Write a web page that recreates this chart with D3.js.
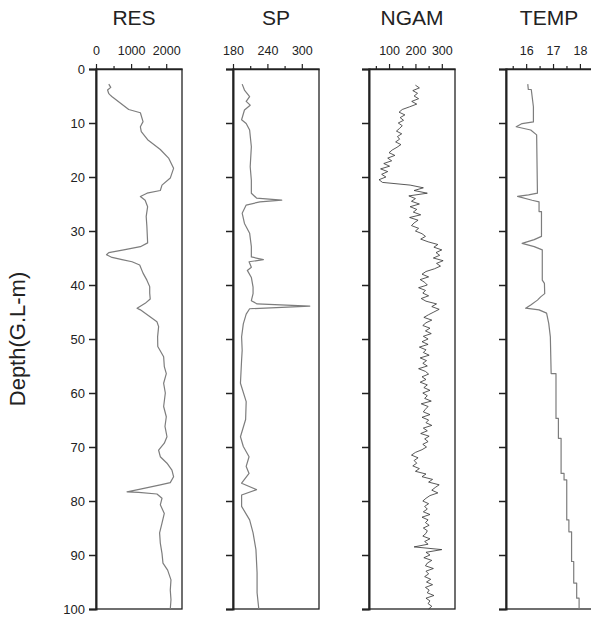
<!DOCTYPE html>
<html>
<head>
<meta charset="utf-8">
<script src="https://cdn.jsdelivr.net/npm/d3@7"></script>
<style>
  body { margin: 0; background: #fff; }
  svg text { font-family: "Liberation Sans", Arial, sans-serif; fill: #222; }
</style>
</head>
<body>
<div id="chart"></div>
<script>
// Log data (depth in m below ground level)
const resDepth = [2.8, 3.4, 3.9, 4.5, 4.8, 5.1, 7.5, 8.1, 9.75, 10.7, 11.6, 13.1, 14.9, 16.5, 18.4, 20.2, 21.5, 22.5, 23.0, 23.6, 24.3, 25.5, 27.3, 29.2, 32.2, 32.9, 33.5, 34.0, 34.4, 34.9, 35.3, 35.7, 36.3, 37.8, 39.1, 40.3, 41.5, 42.6, 43.4, 44.3, 44.6, 45.7, 46.8, 47.7, 49.6, 51.4, 53.3, 55.1, 56.4, 58.2, 60.0, 62.5, 64.4, 66.2, 68.1, 69.3, 70.6, 71.8, 73.0, 74.3, 75.5, 76.6, 77.0, 77.8, 78.3, 78.4, 78.7, 79.5, 80.7, 82.3, 84.1, 85.9, 87.8, 89.7, 91.5, 92.8, 94.6, 96.5, 98.3, 100];
const resValue = [364, 420, 330, 360, 400, 450, 932, 1264, 1340, 1264, 1290, 1471, 1832, 2068, 2210, 2116, 1880, 1832, 1454, 1264, 1400, 1471, 1430, 1450, 1471, 1264, 790, 364, 300, 458, 742, 1027, 1245, 1340, 1450, 1530, 1530, 1545, 1400, 1170, 1264, 1500, 1736, 1784, 1755, 1760, 1927, 1946, 2003, 1927, 1975, 1927, 2003, 1965, 2022, 1946, 1784, 1832, 2022, 2163, 2210, 2116, 1832, 1264, 885, 1217, 1736, 1880, 1832, 1946, 1880, 1812, 1832, 1880, 1908, 2041, 2136, 2116, 2136, 2116];

const spDepth = [2.8, 3.9, 5.1, 6.0, 6.7, 7.6, 9.4, 10.1, 11.3, 14.4, 18.1, 20.6, 23.0, 23.9, 24.3, 24.6, 25.2, 26.7, 28.6, 30.4, 32.9, 34.8, 35.3, 35.7, 36.7, 37.3, 38.6, 40.4, 41.6, 42.9, 43.5, 43.9, 44.4, 45.4, 47.2, 49.6, 52.1, 53.9, 58.2, 61.6, 64.9, 68.1, 69.9, 71.8, 73.6, 74.9, 76.7, 77.9, 78.9, 81.0, 83.5, 85.9, 89.0, 93.3, 97.0, 100];
const spValue = [196, 200, 209, 203, 210, 200, 195, 203, 209, 212, 210, 212, 212, 221, 265, 227, 203, 196, 200, 209, 212, 212, 233, 208, 212, 205, 212, 215, 215, 212, 222, 314, 209, 203, 198, 195, 196, 195, 193, 203, 202, 193, 198, 208, 203, 208, 195, 221, 195, 195, 209, 215, 220, 222, 222, 225];

// NGAM sampled every 0.5 m from 3 m to 100 m
const ngamDepth = d3.range(3, 100.25, 0.5);
const ngamValue = [
  200, 215, 190, 208, 195, 212, 186, 205, 178,
  150, 138, 160, 142, 155, 135, 150, 140,
  128, 148, 132, 140, 125, 145, 130,
  112, 100, 122, 95, 110,
  80, 102, 68, 95, 72, 88, 62, 75,
  180,
  230, 195, 245, 175,
  200, 185, 215, 180, 205, 192, 220, 178, 210, 195, 185, 212, 200,
  225, 238, 220, 248,
  285, 270, 300, 278, 292, 268, 305, 280, 295, 272,
  240, 225, 250, 218, 235, 245, 212, 238, 228, 250, 222, 240,
  280, 262, 290, 270,
  250, 232, 262, 240, 228, 255, 238, 260, 230, 248,
  225, 248, 215, 240, 230, 252, 218, 242, 228, 245, 212, 238, 250, 225, 240, 218, 245, 232,
  255, 228, 245, 235, 260, 222, 248, 238, 230, 255, 225, 250, 240, 262, 230, 245, 220, 252, 235, 248, 228, 242, 225,
  200, 185, 210, 195, 205, 190, 215, 200,
  240, 225, 265, 250, 290, 275,
  262, 285, 255,
  240, 228, 250, 235, 245, 230, 255, 225, 248, 238, 252, 230, 245, 240, 228, 255, 235, 248,
  195, 300,
  240, 255, 232, 262, 245, 238, 268, 240, 250, 235, 258, 242, 265, 238, 252, 245, 270, 240, 255, 248, 262, 250
];

const tempDepth = [2.8, 3.8, 3.8, 7.0, 9.8, 10.1, 10.7, 11.3, 12.2, 23.0, 23.3, 23.6, 24.3, 24.6, 26.4, 26.4, 31.0, 31.6, 32.3, 32.9, 33.5, 39.1, 39.7, 41.6, 42.2, 42.8, 43.7, 44.3, 44.6, 45.2, 47.1, 49.6, 56.4, 56.4, 64.7, 64.7, 68.4, 68.4, 74.9, 74.9, 76.1, 76.1, 83.5, 83.5, 85.7, 85.7, 91.2, 91.2, 95.2, 95.2, 98.0, 98.0, 100];
const tempValue = [16.06, 16.08, 16.19, 16.27, 16.27, 15.85, 15.63, 16.17, 16.39, 16.42, 16.09, 15.68, 16.22, 16.48, 16.48, 16.57, 16.57, 16.3, 15.85, 16.3, 16.6, 16.6, 16.68, 16.69, 16.54, 16.42, 16.17, 15.98, 16.48, 16.76, 16.84, 16.9, 16.93, 17.11, 17.11, 17.2, 17.2, 17.3, 17.3, 17.41, 17.41, 17.51, 17.51, 17.59, 17.59, 17.69, 17.69, 17.77, 17.77, 17.88, 17.88, 17.97, 17.97];

const depthTicks = [0, 10, 20, 30, 40, 50, 60, 70, 80, 90, 100];

const panels = [
  { title: 'RES', depth: resDepth, value: resValue, left: 96, domain: [0, 2450],
    major: [0, 1000, 2000], minor: [500, 1500], color: '#7d7d7d', lw: 1.2 },
  { title: 'SP', depth: spDepth, value: spValue, left: 233, domain: [180, 330],
    major: [180, 240, 300], minor: [210, 270], color: '#7d7d7d', lw: 1.2 },
  { title: 'NGAM', depth: ngamDepth, value: ngamValue, left: 369, domain: [24, 350],
    major: [100, 200, 300], minor: [50, 150, 250], color: '#2e2e2e', lw: 0.8 },
  { title: 'TEMP', depth: tempDepth, value: tempValue, left: 506, domain: [15.25, 18.45],
    major: [16, 17, 18], minor: [15.5, 16.5, 17.5], color: '#7d7d7d', lw: 1.2 }
];

const width = 591;
const height = 617;
const plotTop = 69, plotBottom = 609, panelW = 86;

const svg = d3.select('#chart').append('svg')
  .attr('width', width)
  .attr('height', height);

const y = d3.scaleLinear().domain([0, 100]).range([plotTop, plotBottom]);

panels.forEach((p, i) => {
  const x = d3.scaleLinear().domain(p.domain).range([p.left, p.left + panelW]);
  const g = svg.append('g');

  // frame
  g.append('rect')
    .attr('x', p.left).attr('y', plotTop)
    .attr('width', panelW).attr('height', plotBottom - plotTop)
    .attr('fill', 'none').attr('stroke', '#222').attr('stroke-width', 1.3);

  // curve
  const pts = p.depth.map((d, k) => [p.value[k], d]);
  g.append('path')
    .datum(pts)
    .attr('fill', 'none')
    .attr('stroke', p.color)
    .attr('stroke-width', p.lw)
    .attr('stroke-linejoin', 'round')
    .attr('d', d3.line().x(d => x(d[0])).y(d => y(d[1])));

  // depth axis
  const yAxis = d3.axisLeft(y).tickValues(depthTicks).tickSize(7).tickPadding(4);
  if (i > 0) yAxis.tickFormat('');
  const ya = g.append('g')
    .attr('transform', `translate(${p.left},0)`)
    .call(yAxis);
  ya.select('.domain').attr('stroke', '#222').attr('stroke-width', 2);
  ya.selectAll('.tick line').attr('stroke', '#222').attr('stroke-width', 1.5);
  ya.selectAll('text').style('font-size', '13px').attr('fill', '#333');

  // top value axis, major and minor ticks
  const xa = g.append('g')
    .attr('transform', `translate(0,${plotTop})`)
    .call(d3.axisTop(x).tickValues(p.major).tickFormat(d3.format('d'))
      .tickSize(5).tickPadding(9).tickSizeOuter(0));
  xa.select('.domain').attr('stroke', '#222').attr('stroke-width', 1.5);
  xa.selectAll('.tick line').attr('stroke', '#222').attr('stroke-width', 1.2);
  xa.selectAll('text').style('font-size', '12.5px').attr('fill', '#333');

  const xm = g.append('g')
    .attr('transform', `translate(0,${plotTop})`)
    .call(d3.axisTop(x).tickValues(p.minor).tickSize(3).tickFormat('').tickSizeOuter(0));
  xm.select('.domain').remove();
  xm.selectAll('.tick line').attr('stroke', '#222').attr('stroke-width', 1.2);

  // title
  g.append('text')
    .attr('x', p.left + panelW / 2 - (i === 0 ? 5 : 0))
    .attr('y', 25)
    .attr('text-anchor', 'middle')
    .style('font-size', '21px')
    .text(p.title);
});

svg.append('text')
  .attr('transform', `translate(25,${(plotTop + plotBottom) / 2}) rotate(-90)`)
  .attr('text-anchor', 'middle')
  .style('font-size', '22px')
  .text('Depth(G.L-m)');
</script>
</body>
</html>
